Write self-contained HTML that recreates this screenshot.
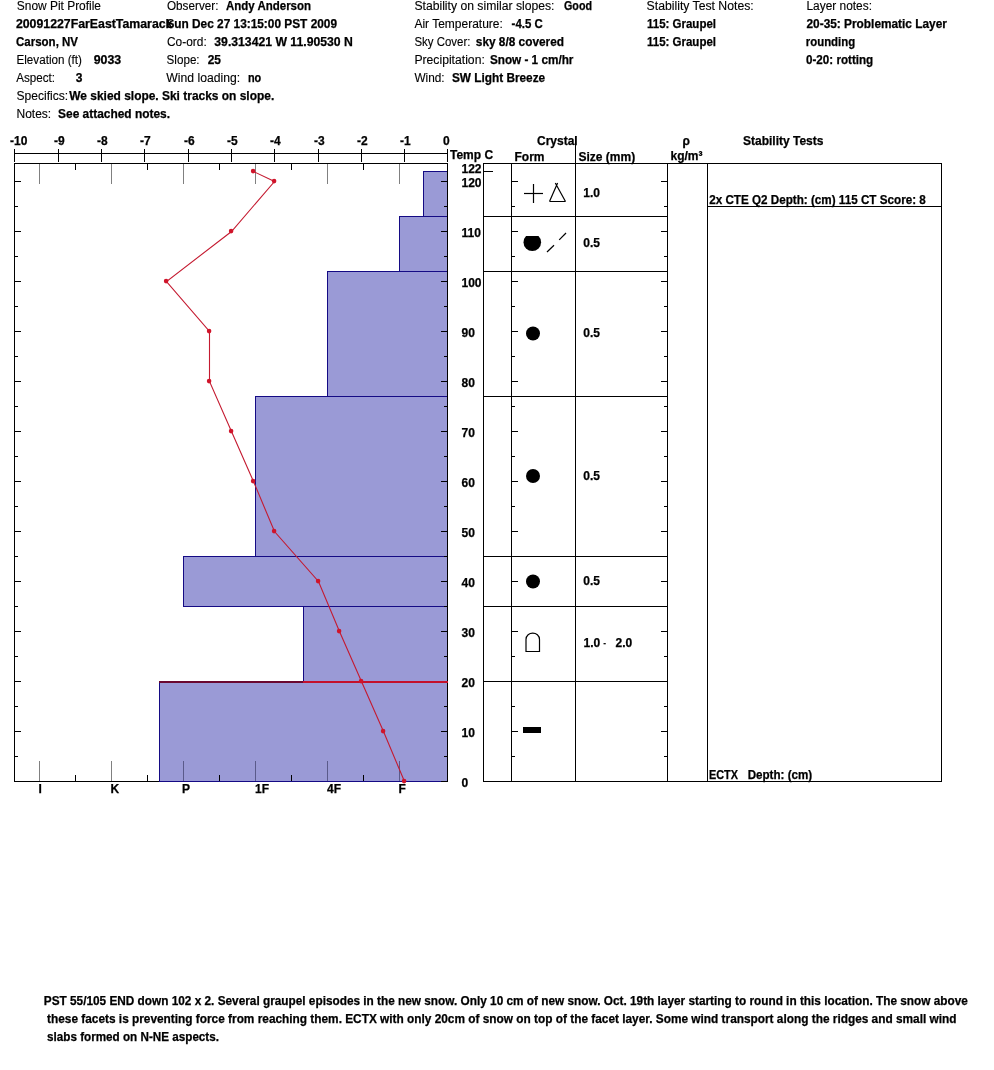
<!DOCTYPE html>
<html><head><meta charset="utf-8"><title>Snow Pit Profile</title>
<style>
html,body{margin:0;padding:0;background:#fff;}
body{width:994px;height:1070px;overflow:hidden;}
svg{display:block;will-change:transform;}
text{font-family:"Liberation Sans", sans-serif;font-size:12px;fill:#000;}
text.b{font-weight:bold;stroke:#000;stroke-width:0.25px;}
text.r{stroke:#000;stroke-width:0.12px;}
</style></head><body>
<svg width="994" height="1070" viewBox="0 0 994 1070">
<rect x="0" y="0" width="994" height="1070" fill="#fff"/>

<text class="r" x="16.80" y="10.00" textLength="84.20" lengthAdjust="spacingAndGlyphs">Snow Pit Profile</text>
<text class="b" x="15.90" y="28.00" textLength="156.53" lengthAdjust="spacingAndGlyphs">20091227FarEastTamarack</text>
<text class="b" x="16.00" y="46.00" textLength="62.00" lengthAdjust="spacingAndGlyphs">Carson, NV</text>
<text class="r" x="16.50" y="64.00" textLength="65.40" lengthAdjust="spacingAndGlyphs">Elevation (ft)</text>
<text class="b" x="93.70" y="64.00" textLength="27.50" lengthAdjust="spacingAndGlyphs">9033</text>
<text class="r" x="16.30" y="82.00" textLength="38.80" lengthAdjust="spacingAndGlyphs">Aspect:</text>
<text class="b" x="75.80" y="82.00">3</text>
<text class="r" x="16.50" y="100.00" textLength="51.70" lengthAdjust="spacingAndGlyphs">Specifics:</text>
<text class="b" x="69.30" y="100.00" textLength="204.90" lengthAdjust="spacingAndGlyphs">We skied slope. Ski tracks on slope.</text>
<text class="r" x="16.50" y="118.00">Notes:</text>
<text class="b" x="58.10" y="118.00" textLength="111.90" lengthAdjust="spacingAndGlyphs">See attached notes.</text>
<text class="r" x="167.00" y="10.00" textLength="51.40" lengthAdjust="spacingAndGlyphs">Observer:</text>
<text class="b" x="226.00" y="10.00" textLength="85.00" lengthAdjust="spacingAndGlyphs">Andy Anderson</text>
<text class="b" x="166.40" y="28.00" textLength="170.60" lengthAdjust="spacingAndGlyphs">Sun Dec 27 13:15:00 PST 2009</text>
<text class="r" x="167.00" y="46.00" textLength="39.70" lengthAdjust="spacingAndGlyphs">Co-ord:</text>
<text class="b" x="214.30" y="46.00" textLength="138.50" lengthAdjust="spacingAndGlyphs">39.313421 W 11.90530 N</text>
<text class="r" x="166.60" y="64.00" textLength="33.00" lengthAdjust="spacingAndGlyphs">Slope:</text>
<text class="b" x="207.70" y="64.00" textLength="13.30" lengthAdjust="spacingAndGlyphs">25</text>
<text class="r" x="166.30" y="82.00" textLength="73.80" lengthAdjust="spacingAndGlyphs">Wind loading:</text>
<text class="b" x="247.90" y="82.00" textLength="13.30" lengthAdjust="spacingAndGlyphs">no</text>
<text class="r" x="414.40" y="10.00" textLength="140.10" lengthAdjust="spacingAndGlyphs">Stability on similar slopes:</text>
<text class="b" x="564.00" y="10.00" textLength="28.00" lengthAdjust="spacingAndGlyphs">Good</text>
<text class="r" x="414.40" y="28.00">Air Temperature:</text>
<text class="b" x="511.60" y="28.00" textLength="31.20" lengthAdjust="spacingAndGlyphs">-4.5 C</text>
<text class="r" x="414.40" y="46.00" textLength="56.00" lengthAdjust="spacingAndGlyphs">Sky Cover:</text>
<text class="b" x="475.80" y="46.00" textLength="88.20" lengthAdjust="spacingAndGlyphs">sky 8/8 covered</text>
<text class="r" x="414.40" y="64.00" textLength="70.40" lengthAdjust="spacingAndGlyphs">Precipitation:</text>
<text class="b" x="489.90" y="64.00" textLength="83.50" lengthAdjust="spacingAndGlyphs">Snow - 1 cm/hr</text>
<text class="r" x="414.40" y="82.00" textLength="30.20" lengthAdjust="spacingAndGlyphs">Wind:</text>
<text class="b" x="451.90" y="82.00" textLength="93.30" lengthAdjust="spacingAndGlyphs">SW Light Breeze</text>
<text class="r" x="646.60" y="10.00" textLength="107.10" lengthAdjust="spacingAndGlyphs">Stability Test Notes:</text>
<text class="b" x="647.00" y="28.00" textLength="69.00" lengthAdjust="spacingAndGlyphs">115: Graupel</text>
<text class="b" x="647.00" y="46.00" textLength="69.00" lengthAdjust="spacingAndGlyphs">115: Graupel</text>
<text class="r" x="806.50" y="10.00" textLength="65.50" lengthAdjust="spacingAndGlyphs">Layer notes:</text>
<text class="b" x="806.50" y="28.00" textLength="140.40" lengthAdjust="spacingAndGlyphs">20-35: Problematic Layer</text>
<text class="b" x="805.80" y="46.00" textLength="49.30" lengthAdjust="spacingAndGlyphs">rounding</text>
<text class="b" x="806.00" y="64.00" textLength="67.20" lengthAdjust="spacingAndGlyphs">0-20: rotting</text>
<rect x="423" y="171" width="25" height="46" fill="#9a9ad6"/>
<rect x="399" y="216" width="49" height="56" fill="#9a9ad6"/>
<rect x="327" y="271" width="121" height="126" fill="#9a9ad6"/>
<rect x="255" y="396" width="193" height="161" fill="#9a9ad6"/>
<rect x="183" y="556" width="265" height="51" fill="#9a9ad6"/>
<rect x="303" y="606" width="145" height="76" fill="#9a9ad6"/>
<rect x="159" y="681" width="289" height="101" fill="#9a9ad6"/>
<rect x="423" y="171" width="25" height="1" fill="#140a84"/>
<rect x="423" y="216" width="25" height="1" fill="#140a84"/>
<rect x="423" y="171" width="1" height="46" fill="#140a84"/>
<rect x="399" y="216" width="49" height="1" fill="#140a84"/>
<rect x="399" y="271" width="49" height="1" fill="#140a84"/>
<rect x="399" y="216" width="1" height="56" fill="#140a84"/>
<rect x="327" y="271" width="121" height="1" fill="#140a84"/>
<rect x="327" y="396" width="121" height="1" fill="#140a84"/>
<rect x="327" y="271" width="1" height="126" fill="#140a84"/>
<rect x="255" y="396" width="193" height="1" fill="#140a84"/>
<rect x="255" y="556" width="193" height="1" fill="#140a84"/>
<rect x="255" y="396" width="1" height="161" fill="#140a84"/>
<rect x="183" y="556" width="265" height="1" fill="#140a84"/>
<rect x="183" y="606" width="265" height="1" fill="#140a84"/>
<rect x="183" y="556" width="1" height="51" fill="#140a84"/>
<rect x="303" y="606" width="145" height="1" fill="#140a84"/>
<rect x="303" y="681" width="145" height="1" fill="#140a84"/>
<rect x="303" y="606" width="1" height="76" fill="#140a84"/>
<rect x="159" y="681" width="289" height="1" fill="#140a84"/>
<rect x="159" y="781" width="289" height="1" fill="#140a84"/>
<rect x="159" y="681" width="1" height="101" fill="#140a84"/>
<rect x="14" y="163" width="1" height="619" fill="#000"/>
<rect x="14" y="163" width="434" height="1" fill="#000"/>
<rect x="447" y="163" width="1" height="619" fill="#000"/>
<rect x="14" y="781" width="145" height="1" fill="#000"/>
<rect x="14" y="153" width="434" height="1" fill="#000"/>
<rect x="14" y="149" width="1" height="13" fill="#000"/>
<text class="b" x="10.00" y="145.00">-10</text>
<rect x="58" y="149" width="1" height="13" fill="#000"/>
<text class="b" x="54.00" y="145.00">-9</text>
<rect x="101" y="149" width="1" height="13" fill="#000"/>
<text class="b" x="97.00" y="145.00">-8</text>
<rect x="144" y="149" width="1" height="13" fill="#000"/>
<text class="b" x="140.00" y="145.00">-7</text>
<rect x="188" y="149" width="1" height="13" fill="#000"/>
<text class="b" x="184.00" y="145.00">-6</text>
<rect x="231" y="149" width="1" height="13" fill="#000"/>
<text class="b" x="227.00" y="145.00">-5</text>
<rect x="274" y="149" width="1" height="13" fill="#000"/>
<text class="b" x="270.00" y="145.00">-4</text>
<rect x="318" y="149" width="1" height="13" fill="#000"/>
<text class="b" x="314.00" y="145.00">-3</text>
<rect x="361" y="149" width="1" height="13" fill="#000"/>
<text class="b" x="357.00" y="145.00">-2</text>
<rect x="404" y="149" width="1" height="13" fill="#000"/>
<text class="b" x="400.00" y="145.00">-1</text>
<rect x="447" y="149" width="1" height="13" fill="#000"/>
<text class="b" x="443.00" y="145.00">0</text>
<text class="b" x="450.00" y="159.00">Temp C</text>
<rect x="39" y="164" width="1" height="20" fill="#808080"/>
<rect x="39" y="761" width="1" height="20" fill="#808080"/>
<rect x="75" y="164" width="1" height="6" fill="#000"/>
<rect x="75" y="775" width="1" height="6" fill="#000"/>
<rect x="111" y="164" width="1" height="20" fill="#808080"/>
<rect x="111" y="761" width="1" height="20" fill="#808080"/>
<rect x="147" y="164" width="1" height="6" fill="#000"/>
<rect x="147" y="775" width="1" height="6" fill="#000"/>
<rect x="183" y="164" width="1" height="20" fill="#808080"/>
<rect x="183" y="761" width="1" height="20" fill="#5a5a8a"/>
<rect x="219" y="164" width="1" height="6" fill="#000"/>
<rect x="219" y="775" width="1" height="6" fill="#000"/>
<rect x="255" y="164" width="1" height="20" fill="#808080"/>
<rect x="255" y="761" width="1" height="20" fill="#5a5a8a"/>
<rect x="291" y="164" width="1" height="6" fill="#000"/>
<rect x="291" y="775" width="1" height="6" fill="#000"/>
<rect x="327" y="164" width="1" height="20" fill="#808080"/>
<rect x="327" y="761" width="1" height="20" fill="#5a5a8a"/>
<rect x="363" y="164" width="1" height="6" fill="#000"/>
<rect x="363" y="775" width="1" height="6" fill="#000"/>
<rect x="399" y="164" width="1" height="20" fill="#808080"/>
<rect x="399" y="761" width="1" height="20" fill="#5a5a8a"/>
<text class="b" x="38.50" y="793.00">I</text>
<text class="b" x="110.50" y="793.00">K</text>
<text class="b" x="182.00" y="793.00">P</text>
<text class="b" x="255.00" y="793.00">1F</text>
<text class="b" x="327.00" y="793.00">4F</text>
<text class="b" x="398.50" y="793.00">F</text>
<rect x="14" y="781" width="7" height="1" fill="#000"/>
<rect x="441" y="781" width="7" height="1" fill="#000"/>
<rect x="511" y="781" width="7" height="1" fill="#000"/>
<rect x="661" y="781" width="7" height="1" fill="#000"/>
<rect x="14" y="756" width="4" height="1" fill="#000"/>
<rect x="444" y="756" width="4" height="1" fill="#000"/>
<rect x="511" y="756" width="4" height="1" fill="#000"/>
<rect x="664" y="756" width="4" height="1" fill="#000"/>
<rect x="14" y="731" width="7" height="1" fill="#000"/>
<rect x="441" y="731" width="7" height="1" fill="#000"/>
<rect x="511" y="731" width="7" height="1" fill="#000"/>
<rect x="661" y="731" width="7" height="1" fill="#000"/>
<rect x="14" y="706" width="4" height="1" fill="#000"/>
<rect x="444" y="706" width="4" height="1" fill="#000"/>
<rect x="511" y="706" width="4" height="1" fill="#000"/>
<rect x="664" y="706" width="4" height="1" fill="#000"/>
<rect x="14" y="681" width="7" height="1" fill="#000"/>
<rect x="441" y="681" width="7" height="1" fill="#000"/>
<rect x="511" y="681" width="7" height="1" fill="#000"/>
<rect x="661" y="681" width="7" height="1" fill="#000"/>
<rect x="14" y="656" width="4" height="1" fill="#000"/>
<rect x="444" y="656" width="4" height="1" fill="#000"/>
<rect x="511" y="656" width="4" height="1" fill="#000"/>
<rect x="664" y="656" width="4" height="1" fill="#000"/>
<rect x="14" y="631" width="7" height="1" fill="#000"/>
<rect x="441" y="631" width="7" height="1" fill="#000"/>
<rect x="511" y="631" width="7" height="1" fill="#000"/>
<rect x="661" y="631" width="7" height="1" fill="#000"/>
<rect x="14" y="606" width="4" height="1" fill="#000"/>
<rect x="444" y="606" width="4" height="1" fill="#000"/>
<rect x="511" y="606" width="4" height="1" fill="#000"/>
<rect x="664" y="606" width="4" height="1" fill="#000"/>
<rect x="14" y="581" width="7" height="1" fill="#000"/>
<rect x="441" y="581" width="7" height="1" fill="#000"/>
<rect x="511" y="581" width="7" height="1" fill="#000"/>
<rect x="661" y="581" width="7" height="1" fill="#000"/>
<rect x="14" y="556" width="4" height="1" fill="#000"/>
<rect x="444" y="556" width="4" height="1" fill="#000"/>
<rect x="511" y="556" width="4" height="1" fill="#000"/>
<rect x="664" y="556" width="4" height="1" fill="#000"/>
<rect x="14" y="531" width="7" height="1" fill="#000"/>
<rect x="441" y="531" width="7" height="1" fill="#000"/>
<rect x="511" y="531" width="7" height="1" fill="#000"/>
<rect x="661" y="531" width="7" height="1" fill="#000"/>
<rect x="14" y="506" width="4" height="1" fill="#000"/>
<rect x="444" y="506" width="4" height="1" fill="#000"/>
<rect x="511" y="506" width="4" height="1" fill="#000"/>
<rect x="664" y="506" width="4" height="1" fill="#000"/>
<rect x="14" y="481" width="7" height="1" fill="#000"/>
<rect x="441" y="481" width="7" height="1" fill="#000"/>
<rect x="511" y="481" width="7" height="1" fill="#000"/>
<rect x="661" y="481" width="7" height="1" fill="#000"/>
<rect x="14" y="456" width="4" height="1" fill="#000"/>
<rect x="444" y="456" width="4" height="1" fill="#000"/>
<rect x="511" y="456" width="4" height="1" fill="#000"/>
<rect x="664" y="456" width="4" height="1" fill="#000"/>
<rect x="14" y="431" width="7" height="1" fill="#000"/>
<rect x="441" y="431" width="7" height="1" fill="#000"/>
<rect x="511" y="431" width="7" height="1" fill="#000"/>
<rect x="661" y="431" width="7" height="1" fill="#000"/>
<rect x="14" y="406" width="4" height="1" fill="#000"/>
<rect x="444" y="406" width="4" height="1" fill="#000"/>
<rect x="511" y="406" width="4" height="1" fill="#000"/>
<rect x="664" y="406" width="4" height="1" fill="#000"/>
<rect x="14" y="381" width="7" height="1" fill="#000"/>
<rect x="441" y="381" width="7" height="1" fill="#000"/>
<rect x="511" y="381" width="7" height="1" fill="#000"/>
<rect x="661" y="381" width="7" height="1" fill="#000"/>
<rect x="14" y="356" width="4" height="1" fill="#000"/>
<rect x="444" y="356" width="4" height="1" fill="#000"/>
<rect x="511" y="356" width="4" height="1" fill="#000"/>
<rect x="664" y="356" width="4" height="1" fill="#000"/>
<rect x="14" y="331" width="7" height="1" fill="#000"/>
<rect x="441" y="331" width="7" height="1" fill="#000"/>
<rect x="511" y="331" width="7" height="1" fill="#000"/>
<rect x="661" y="331" width="7" height="1" fill="#000"/>
<rect x="14" y="306" width="4" height="1" fill="#000"/>
<rect x="444" y="306" width="4" height="1" fill="#000"/>
<rect x="511" y="306" width="4" height="1" fill="#000"/>
<rect x="664" y="306" width="4" height="1" fill="#000"/>
<rect x="14" y="281" width="7" height="1" fill="#000"/>
<rect x="441" y="281" width="7" height="1" fill="#000"/>
<rect x="511" y="281" width="7" height="1" fill="#000"/>
<rect x="661" y="281" width="7" height="1" fill="#000"/>
<rect x="14" y="256" width="4" height="1" fill="#000"/>
<rect x="444" y="256" width="4" height="1" fill="#000"/>
<rect x="511" y="256" width="4" height="1" fill="#000"/>
<rect x="664" y="256" width="4" height="1" fill="#000"/>
<rect x="14" y="231" width="7" height="1" fill="#000"/>
<rect x="441" y="231" width="7" height="1" fill="#000"/>
<rect x="511" y="231" width="7" height="1" fill="#000"/>
<rect x="661" y="231" width="7" height="1" fill="#000"/>
<rect x="14" y="206" width="4" height="1" fill="#000"/>
<rect x="444" y="206" width="4" height="1" fill="#000"/>
<rect x="511" y="206" width="4" height="1" fill="#000"/>
<rect x="664" y="206" width="4" height="1" fill="#000"/>
<rect x="14" y="181" width="7" height="1" fill="#000"/>
<rect x="441" y="181" width="7" height="1" fill="#000"/>
<rect x="511" y="181" width="7" height="1" fill="#000"/>
<rect x="661" y="181" width="7" height="1" fill="#000"/>
<rect x="159" y="681" width="144" height="2" fill="#6a0830"/>
<rect x="303" y="681" width="145" height="2" fill="#c4102c"/>
<polyline fill="none" stroke="#c41a30" stroke-width="1.1" points="253.50,171.50 274.50,181.50 231.50,231.50 166.50,281.50 209.50,331.50 209.50,381.50 231.50,431.50 253.50,481.50 274.50,531.50 318.50,581.50 339.50,631.50 361.50,681.50 383.50,731.50 404.50,781.50"/>
<circle cx="253.10" cy="171.10" r="2.3" fill="#d0142a"/>
<circle cx="274.10" cy="181.10" r="2.3" fill="#d0142a"/>
<circle cx="231.10" cy="231.10" r="2.3" fill="#d0142a"/>
<circle cx="166.10" cy="281.10" r="2.3" fill="#d0142a"/>
<circle cx="209.10" cy="331.10" r="2.3" fill="#d0142a"/>
<circle cx="209.10" cy="381.10" r="2.3" fill="#d0142a"/>
<circle cx="231.10" cy="431.10" r="2.3" fill="#d0142a"/>
<circle cx="253.10" cy="481.10" r="2.3" fill="#d0142a"/>
<circle cx="274.10" cy="531.10" r="2.3" fill="#d0142a"/>
<circle cx="318.10" cy="581.10" r="2.3" fill="#d0142a"/>
<circle cx="339.10" cy="631.10" r="2.3" fill="#d0142a"/>
<circle cx="361.10" cy="681.10" r="2.3" fill="#d0142a"/>
<circle cx="383.10" cy="731.10" r="2.3" fill="#d0142a"/>
<circle cx="404.10" cy="781.10" r="2.3" fill="#d0142a"/>
<text class="b" x="461.50" y="787.00">0</text>
<text class="b" x="461.50" y="737.00">10</text>
<text class="b" x="461.50" y="687.00">20</text>
<text class="b" x="461.50" y="637.00">30</text>
<text class="b" x="461.50" y="587.00">40</text>
<text class="b" x="461.50" y="537.00">50</text>
<text class="b" x="461.50" y="487.00">60</text>
<text class="b" x="461.50" y="437.00">70</text>
<text class="b" x="461.50" y="387.00">80</text>
<text class="b" x="461.50" y="337.00">90</text>
<text class="b" x="461.50" y="287.00">100</text>
<text class="b" x="461.50" y="237.00">110</text>
<text class="b" x="461.50" y="187.00">120</text>
<text class="b" x="461.50" y="173.00">122</text>
<rect x="483" y="163" width="1" height="619" fill="#000"/>
<rect x="511" y="163" width="1" height="619" fill="#000"/>
<rect x="575" y="163" width="1" height="619" fill="#000"/>
<rect x="667" y="163" width="1" height="619" fill="#000"/>
<rect x="707" y="163" width="1" height="619" fill="#000"/>
<rect x="941" y="163" width="1" height="619" fill="#000"/>
<rect x="483" y="163" width="459" height="1" fill="#000"/>
<rect x="483" y="781" width="459" height="1" fill="#000"/>
<rect x="575" y="136" width="1" height="28" fill="#000"/>
<rect x="483" y="216" width="185" height="1" fill="#000"/>
<rect x="483" y="271" width="185" height="1" fill="#000"/>
<rect x="483" y="396" width="185" height="1" fill="#000"/>
<rect x="483" y="556" width="185" height="1" fill="#000"/>
<rect x="483" y="606" width="185" height="1" fill="#000"/>
<rect x="483" y="681" width="185" height="1" fill="#000"/>
<rect x="483" y="171" width="10" height="1" fill="#000"/>
<rect x="707" y="206" width="235" height="1" fill="#000"/>
<text class="b" x="537.00" y="145.00">Crystal</text>
<text class="b" x="514.50" y="161.00">Form</text>
<text class="b" x="578.50" y="161.00">Size (mm)</text>
<text class="b" x="682.50" y="145.00">ρ</text>
<text class="b" x="670.50" y="160.00">kg/m³</text>
<text class="b" x="743.00" y="145.00">Stability Tests</text>
<text class="b" x="709.20" y="204.00" textLength="216.60" lengthAdjust="spacingAndGlyphs">2x CTE Q2 Depth: (cm) 115 CT Score: 8</text>
<text class="b" x="708.90" y="779.00" textLength="29.00" lengthAdjust="spacingAndGlyphs">ECTX</text>
<text class="b" x="747.70" y="779.00" textLength="64.50" lengthAdjust="spacingAndGlyphs">Depth: (cm)</text>
<text class="b" x="583.30" y="197.00">1.0</text>
<text class="b" x="583.30" y="247.00">0.5</text>
<text class="b" x="583.30" y="337.00">0.5</text>
<text class="b" x="583.30" y="480.00">0.5</text>
<text class="b" x="583.30" y="585.00">0.5</text>
<text class="b" x="583.60" y="647.00">1.0</text>
<text class="r" x="603.20" y="647.00" textLength="2.80" lengthAdjust="spacingAndGlyphs">-</text>
<text class="b" x="615.60" y="647.00">2.0</text>
<g stroke="#000" stroke-width="1.2" fill="none">
<line x1="524" y1="193.5" x2="543" y2="193.5"/>
<line x1="533.5" y1="184" x2="533.5" y2="203"/>
<path d="M549.5,201.5 L565.5,201.5 M549.5,201.5 L557.6,183 M565.5,201.5 L555.3,183"/>
<path d="M526,651.5 L526,639.5 C526,631 539.5,631 539.5,639.5 L539.5,651.5 Z"/>
<line x1="547" y1="252" x2="554" y2="245.3"/><line x1="559.2" y1="239.8" x2="566" y2="233"/>
</g>
<clipPath id="c2"><rect x="520" y="236" width="30" height="30"/></clipPath>
<circle cx="532.3" cy="242.3" r="8.8" fill="#000" clip-path="url(#c2)"/>
<circle cx="533" cy="333.5" r="7" fill="#000"/>
<circle cx="533" cy="476" r="7" fill="#000"/>
<circle cx="533" cy="581.5" r="7" fill="#000"/>
<rect x="523" y="727" width="18" height="6" fill="#000"/>
<text class="b" x="43.80" y="1005.00" textLength="924.00" lengthAdjust="spacingAndGlyphs">PST 55/105 END down 102 x 2. Several graupel episodes in the new snow. Only 10 cm of new snow. Oct. 19th layer starting to round in this location. The snow above</text>
<text class="b" x="47.10" y="1023.00" textLength="909.40" lengthAdjust="spacingAndGlyphs">these facets is preventing force from reaching them. ECTX with only 20cm of snow on top of the facet layer. Some wind transport along the ridges and small wind</text>
<text class="b" x="47.10" y="1041.00" textLength="171.90" lengthAdjust="spacingAndGlyphs">slabs formed on N-NE aspects.</text>
</svg></body></html>
